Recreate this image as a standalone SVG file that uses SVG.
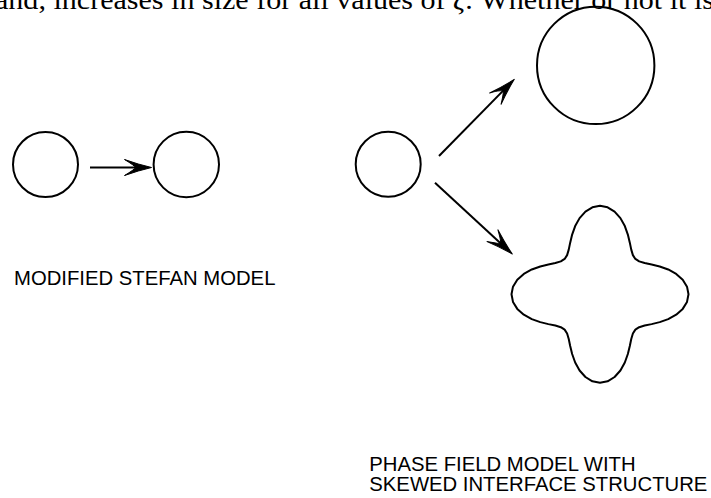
<svg xmlns="http://www.w3.org/2000/svg" width="711" height="498" viewBox="0 0 711 498">
<style>
.shape{fill:none;stroke:#000;stroke-width:2;stroke-linejoin:round}
.conn{fill:none;stroke:#000;stroke-width:2}
.lbl{font-family:"Liberation Sans",Arial,sans-serif;font-size:20.3px;fill:#000}
.page{font-family:"Liberation Serif","Times New Roman",serif;font-size:28px;fill:#000}
</style>
<defs>
<marker id="ah" markerUnits="userSpaceOnUse" viewBox="-30 -10 32 20" refX="-12" refY="0" markerWidth="32" markerHeight="20" orient="auto">
<path d="M0,0 Q-13,-3 -27,-8 Q-17,-2 -16,0 Q-17,2 -27,8 Q-13,3 0,0 Z" fill="#000" stroke="#000" stroke-width="1" stroke-linejoin="round"/>
</marker>
</defs>
<rect width="711" height="498" fill="#fff"/>
<text class="page" x="-5" y="8.5" textLength="719" lengthAdjust="spacingAndGlyphs">and, increases in size for all values of <tspan font-style="italic">ζ</tspan>.  Whether or not it is</text>
<g id="stefan-before"><circle class="shape" cx="45.5" cy="164.5" r="32.5"/></g>
<g id="stefan-after"><circle class="shape" cx="186.3" cy="164.5" r="32.7"/></g>
<g id="phase-before"><circle class="shape" cx="388.2" cy="164.3" r="32.5"/></g>
<g id="phase-circle"><circle class="shape" cx="595.7" cy="65.4" r="58.7"/></g>
<g id="phase-skewed" transform="translate(600,294.3)">
<polygon class="shape" points="88.5,0 87.01,7.62 82.72,14.58 76.19,20.41 68.21,24.83 59.73,27.85 51.64,29.81 44.65,31.26 39.19,32.89 35.36,35.36 32.89,39.19 31.26,44.65 29.81,51.64 27.85,59.73 24.83,68.21 20.41,76.19 14.58,82.72 7.62,87.01 0,88.5 -7.62,87.01 -14.58,82.72 -20.41,76.19 -24.83,68.21 -27.85,59.73 -29.81,51.64 -31.26,44.65 -32.89,39.19 -35.36,35.36 -39.19,32.89 -44.65,31.26 -51.64,29.81 -59.73,27.85 -68.21,24.83 -76.19,20.41 -82.72,14.58 -87.01,7.62 -88.5,0 -87.01,-7.62 -82.72,-14.58 -76.19,-20.41 -68.21,-24.83 -59.73,-27.85 -51.64,-29.81 -44.65,-31.26 -39.19,-32.89 -35.36,-35.36 -32.89,-39.19 -31.26,-44.65 -29.81,-51.64 -27.85,-59.73 -24.83,-68.21 -20.41,-76.19 -14.58,-82.72 -7.62,-87.01 0,-88.5 7.62,-87.01 14.58,-82.72 20.41,-76.19 24.83,-68.21 27.85,-59.73 29.81,-51.64 31.26,-44.65 32.89,-39.19 35.36,-35.36 39.19,-32.89 44.65,-31.26 51.64,-29.81 59.73,-27.85 68.21,-24.83 76.19,-20.41 82.72,-14.58 87.01,-7.62"/>
</g>
<g id="connectors">
<line class="conn" x1="90" y1="167.5" x2="139.5" y2="167.5" marker-end="url(#ah)"/>
<line class="conn" x1="439" y1="156" x2="505.9" y2="87.9" marker-end="url(#ah)"/>
<line class="conn" x1="435" y1="182.7" x2="503.5" y2="245.9" marker-end="url(#ah)"/>
</g>
<g id="label-stefan"><text class="lbl" x="14" y="285">MODIFIED STEFAN MODEL</text></g>
<g id="label-phase">
<text class="lbl" x="369.3" y="470.7">PHASE FIELD MODEL WITH</text>
<text class="lbl" x="369.3" y="490.7">SKEWED INTERFACE STRUCTURE</text>
</g>
</svg>
